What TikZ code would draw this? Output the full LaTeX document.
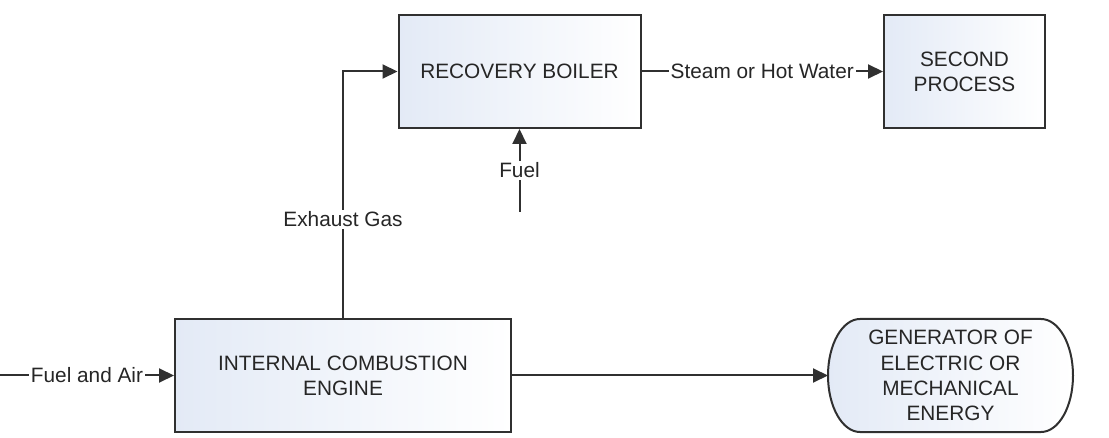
\documentclass[tikz,border=0pt]{standalone}
\usepackage{fontspec}
\setmainfont{Liberation Sans}
\usetikzlibrary{arrows.meta,backgrounds}
\definecolor{linegray}{HTML}{303030}
\definecolor{boxblue}{HTML}{E3EAF6}
\definecolor{textgray}{HTML}{262626}

\begin{document}
\begin{tikzpicture}[x=0.5pt,y=-0.5pt,
  font=\fontsize{10.4}{12.6}\selectfont,text=textgray,
  block/.style={rectangle,draw=linegray,line width=1pt,left color=boxblue,right color=white,
    minimum height=56.5pt,align=center,inner sep=2pt},
  genshape/.style={rectangle,minimum width=122.5pt,minimum height=56.5pt,outer sep=0pt,
    inner sep=0pt,align=center},
  flow/.style={draw=linegray,line width=1pt,-{Triangle[length=7.5pt,width=7pt]}},
  lbl/.style={fill=white,inner sep=1pt}]
\useasboundingbox (0,0) rectangle (1109,438);

\path (519.5,71.5) node[block,minimum width=121pt] (boiler) {RECOVERY BOILER};
\path (964.5,71.5) node[block,minimum width=80.5pt] (second) {SECOND\\PROCESS};
\path (343,375.5) node[block,minimum width=168pt] (ice) {INTERNAL COMBUSTION\\ENGINE};
\path (950.5,375.5) node[genshape] (gen) {GENERATOR OF\\ELECTRIC OR\\MECHANICAL\\ENERGY};

% outline of the generator
\begin{scope}[on background layer]
\path[draw=linegray,line width=1pt,left color=boxblue,right color=white]
  ([xshift=16pt]gen.north west) -- ([xshift=-16pt]gen.north east)
  arc[start angle=90,end angle=-90,x radius=16pt,y radius=28.25pt]
  -- ([xshift=16pt]gen.south west)
  arc[start angle=-90,end angle=-270,x radius=16pt,y radius=28.25pt] -- cycle;
\end{scope}

\coordinate (fa) at (0,375.5);
\coordinate (fuel) at (519.5,212);

\draw[flow] (fa) -- node[lbl]{Fuel and Air} (ice);
\draw[flow] (ice) -- (gen);
\draw[flow] (ice.north) |- node[lbl,pos=0.2]{Exhaust Gas} (boiler);
\draw[flow] (fuel) -- node[lbl]{Fuel} (boiler);
\draw[flow] (boiler) -- node[lbl]{Steam or Hot Water} (second);
\end{tikzpicture}
\end{document}
